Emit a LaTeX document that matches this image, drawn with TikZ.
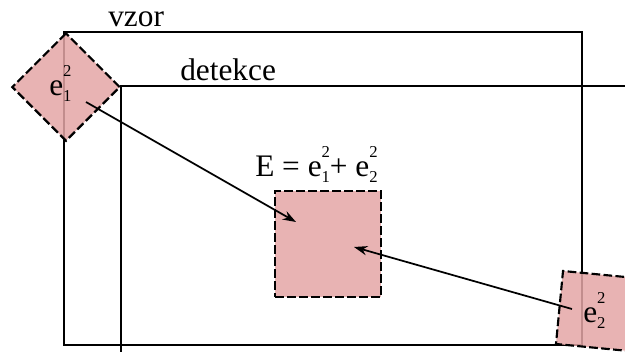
\documentclass[tikz,border=0pt]{standalone}
\usepackage{fontspec}
\setmainfont{Liberation Serif}
\usepackage{xcolor}
\usetikzlibrary{arrows.meta, positioning}
\definecolor{errfill}{RGB}{228,166,166}
\newcommand{\idx}{\fontsize{12.5}{12.5}\selectfont}
\newcommand{\esq}[1]{e\rlap{\raisebox{0.6em}{\idx 2}}\raisebox{-0.22em}{\idx #1}}
\tikzset{
  frame/.style={draw=black, line width=1.5pt},
  errsq/.style={rectangle, draw=black, fill=errfill, fill opacity=0.85,
                dash pattern=on 6.5pt off 2.5pt, line width=1.6pt, inner sep=0pt},
  txt/.style={font=\fontsize{23.5}{28}\selectfont, inner sep=0pt, anchor=base west},
  arrow/.style={-{Stealth[length=10pt, width=7pt]}, draw=black, line width=1.3pt},
}

\begin{document}
\begin{tikzpicture}[x=0.75pt, y=-0.75pt]
  \useasboundingbox (0,0) rectangle (625,351);
  \clip (0,0) rectangle (625,351);

  % Frames
  \draw[frame] (64,32) rectangle (582,345);
  \draw[frame] (121,86) rectangle (700,420);
  \node[txt] (vzor) at (108,26) {vzor};
  \node[txt] (detekce) at (180,80) {detekce};

  % Error squares
  \node[errsq, minimum size=57pt, rotate=45] (e1) at (66,87) {};
  \node[errsq, minimum size=79.5pt] (E) at (328,244) {};
  \node[errsq, minimum size=55pt, rotate=-5.5] (e2) at (596,311) {};

  \node[txt] (e1txt) at (49,95) {\esq{1}};
  \node[txt] (e2txt) at (583,322) {\esq{2}};
  \node[txt] (Etxt) at (255,176) {E = \esq{1}+ \esq{2}};

  % Arrows
  \coordinate (a1) at (86,102);
  \coordinate (b1) at (296,222);
  \coordinate (a2) at (572,309);
  \coordinate (b2) at (354,247);
  \draw[arrow] (a1) -- (b1);
  \draw[arrow] (a2) -- (b2);
\end{tikzpicture}
\end{document}
